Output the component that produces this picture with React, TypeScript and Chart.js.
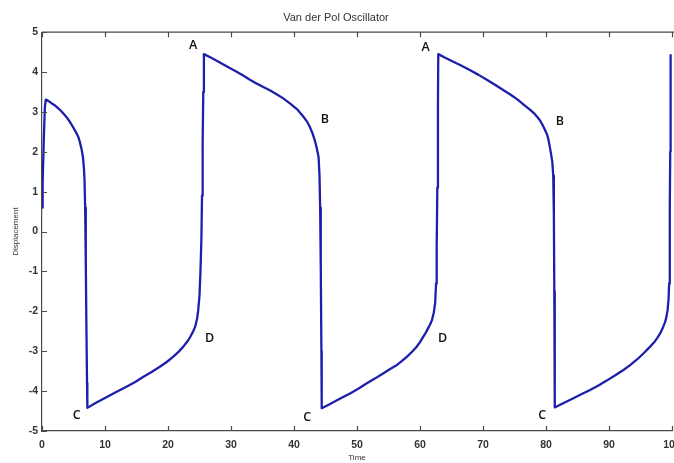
import React, { useEffect, useRef } from "react";
import { Chart, registerables } from "chart.js";

Chart.register(...registerables);

// Time samples of the oscillator trace
const timeValues: number[] = [
  0, 0.1, 0.3, 0.45, 0.6,
  1.0, 1.5, 2.0, 2.5, 3.0, 3.4, 3.9, 4.3, 4.7, 5.0, 5.5, 5.8, 6.0, 6.3, 6.5, 6.65, 6.75, 6.85, 6.95, 7.05, 7.15, 7.2,
  8.5, 10, 11.7, 13.4, 14.8, 16.1, 17.4, 18.7, 19.8, 20.8, 21.7, 22.4, 23.0, 23.5, 24.0, 24.3, 24.6, 24.8, 25.0, 25.15, 25.3, 25.4, 25.5, 25.6, 25.7,
  26.7, 27.8, 28.8, 29.8, 30.9, 32.0, 33.0, 34.1, 35.2, 36.3, 37.3, 38.3, 39.4, 40.6, 41.5, 42.1, 42.5, 42.9, 43.3, 43.6, 43.9, 44.05, 44.15, 44.25, 44.35, 44.4,
  45.5, 46.6, 47.8, 48.9, 50.2, 51.5, 52.9, 54.2, 55.2, 56.2, 57.1, 57.9, 58.7, 59.4, 60.0, 60.5, 60.9, 61.3, 61.6, 61.9, 62.2, 62.4, 62.55, 62.65, 62.75, 62.85, 62.9,
  64.0, 65.3, 66.6, 67.9, 69.3, 70.6, 71.9, 73.2, 74.4, 75.5, 76.5, 77.5, 78.2, 78.7, 79.2, 79.6, 79.9, 80.2, 80.4, 80.6, 80.8, 81.0, 81.15, 81.25, 81.32, 81.38, 81.4,
  82.8, 84.2, 85.6, 87.0, 88.4, 89.7, 91.0, 92.3, 93.4, 94.5, 95.5, 96.5, 97.2, 97.7, 98.2, 98.6, 98.9, 99.1, 99.3, 99.45, 99.55, 99.62, 99.68, 99.72, 99.76, 99.8,
];

// Displacement at each time sample
const displacementValues: number[] = [
  0.6, 1.2, 2.4, 3.1, 3.31,
  3.28, 3.22, 3.17, 3.1, 3.03, 2.96, 2.87, 2.78, 2.68, 2.6, 2.46, 2.36, 2.25, 2.05, 1.87, 1.6, 1.3, 0.6, -0.8, -2.4, -3.8, -4.42,
  -4.3, -4.17, -4.03, -3.89, -3.77, -3.64, -3.52, -3.39, -3.27, -3.14, -3.01, -2.89, -2.77, -2.65, -2.5, -2.39, -2.2, -1.97, -1.6, -1.0, -0.2, 0.9, 2.2, 3.5, 4.45,
  4.37, 4.28, 4.19, 4.1, 4.01, 3.91, 3.81, 3.71, 3.62, 3.53, 3.44, 3.34, 3.21, 3.05, 2.88, 2.75, 2.63, 2.48, 2.29, 2.1, 1.87, 1.4, 0.6, -0.9, -3.0, -4.43,
  -4.34, -4.25, -4.15, -4.06, -3.94, -3.81, -3.68, -3.55, -3.45, -3.36, -3.25, -3.14, -3.02, -2.9, -2.77, -2.64, -2.54, -2.42, -2.33, -2.22, -2.02, -1.8, -1.3, -0.4, 1.1, 3.2, 4.45,
  4.36, 4.26, 4.16, 4.05, 3.93, 3.81, 3.68, 3.55, 3.43, 3.31, 3.18, 3.05, 2.95, 2.86, 2.75, 2.63, 2.53, 2.42, 2.3, 2.13, 1.95, 1.75, 1.4, 0.4, -1.5, -3.5, -4.41,
  -4.3, -4.19, -4.08, -3.97, -3.85, -3.73, -3.6, -3.47, -3.34, -3.2, -3.05, -2.89, -2.77, -2.66, -2.53, -2.39, -2.27, -2.15, -1.97, -1.7, -1.3, -0.6, 0.6, 2.0, 3.4, 4.45,
];

// Phase markers on the limit cycle
const markerNames: string[] = ["A", "A", "B", "B", "C", "C", "C", "D", "D"];
const markerTimes: number[] = [24.0, 60.9, 44.9, 82.2, 5.5, 42.1, 79.4, 26.6, 63.6];
const markerValues: number[] = [4.67, 4.63, 2.82, 2.75, -4.62, -4.66, -4.6, -2.68, -2.68];

const xTickValues: number[] = [0, 10, 20, 30, 40, 50, 60, 70, 80, 90, 100];
const yTickValues: number[] = [-5, -4, -3, -2, -1, 0, 1, 2, 3, 4, 5];

const AXIS_COLOR = "#4a4a4a";
const TICK_FONT = { family: "Liberation Sans, Arial, sans-serif", size: 10.5, weight: "bold" as const };

// Frame top edge, inward tick marks and the phase letters
const framePlugin = {
  id: "frameAndMarkers",
  afterDraw(chart: any) {
    const { ctx, chartArea, scales } = chart;
    const xs = scales.x;
    const ys = scales.y;
    ctx.save();
    ctx.strokeStyle = AXIS_COLOR;
    ctx.lineWidth = 1.2;
    ctx.beginPath();
    ctx.moveTo(chartArea.left, chartArea.top);
    ctx.lineTo(chartArea.right + 2, chartArea.top);
    for (const v of xTickValues) {
      const px = Math.round(xs.getPixelForValue(v)) + 0.5;
      ctx.moveTo(px, chartArea.bottom);
      ctx.lineTo(px, chartArea.bottom - 5);
      ctx.moveTo(px, chartArea.top);
      ctx.lineTo(px, chartArea.top + 5);
    }
    for (const v of yTickValues) {
      const py = Math.round(ys.getPixelForValue(v)) + 0.5;
      ctx.moveTo(chartArea.left, py);
      ctx.lineTo(chartArea.left + 5, py);
    }
    ctx.stroke();

    ctx.fillStyle = "#111";
    ctx.font = "600 12.5px 'Open Sans', 'Liberation Sans', sans-serif";
    ctx.textAlign = "center";
    ctx.textBaseline = "middle";
    markerNames.forEach((name, i) => {
      ctx.fillText(name, xs.getPixelForValue(markerTimes[i]), ys.getPixelForValue(markerValues[i]));
    });
    ctx.restore();
  },
};

export default function App() {
  const canvasRef = useRef<HTMLCanvasElement | null>(null);

  useEffect(() => {
    document.body.style.margin = "0";
    const canvas = canvasRef.current;
    if (!canvas) return;
    const points = timeValues.map((t, i) => ({ x: t, y: displacementValues[i] }));
    const chart = new Chart(canvas, {
      type: "line",
      data: {
        datasets: [
          {
            data: points,
            borderColor: "rgb(30, 30, 172)",
            borderWidth: 2.3,
            borderJoinStyle: "round",
            pointRadius: 0,
            tension: 0,
            fill: false,
          },
        ],
      },
      options: {
        animation: false,
        responsive: false,
        maintainAspectRatio: false,
        layout: { padding: { left: 0, right: 2, top: 0, bottom: 0 } },
        plugins: {
          legend: { display: false },
          tooltip: { enabled: false },
          title: {
            display: true,
            text: "Van der Pol Oscillator",
            color: "#333",
            font: { family: "Liberation Sans, Arial, sans-serif", size: 11, weight: "normal" },
            padding: { top: 11, bottom: 8 },
          },
        },
        scales: {
          x: {
            type: "linear",
            min: 0,
            max: 100,
            afterBuildTicks: (scale: any) => {
              scale.ticks = xTickValues.map((v) => ({ value: v }));
            },
            afterFit: (scale: any) => {
              scale.height = 32;
              scale.paddingLeft = 0;
              scale.paddingRight = 0;
            },
            grid: { display: false, drawTicks: false },
            border: { display: true, color: AXIS_COLOR, width: 1.2 },
            ticks: { color: "#333", font: TICK_FONT, padding: 8, maxRotation: 0, autoSkip: false },
            title: {
              display: true,
              text: "Time",
              color: "#333",
              font: { family: "Liberation Sans, Arial, sans-serif", size: 8 },
              padding: { top: 0, bottom: 0 },
            },
          },
          y: {
            type: "linear",
            min: -5,
            max: 5,
            afterBuildTicks: (scale: any) => {
              scale.ticks = yTickValues.map((v) => ({ value: v }));
            },
            afterFit: (scale: any) => {
              scale.width = 42;
              scale.paddingTop = 0;
              scale.paddingBottom = 0;
            },
            grid: { display: false, drawTicks: false },
            border: { display: true, color: AXIS_COLOR, width: 1.2 },
            ticks: { color: "#333", font: TICK_FONT, padding: 4, autoSkip: false },
            title: {
              display: true,
              text: "Displacement",
              color: "#333",
              font: { family: "Liberation Sans, Arial, sans-serif", size: 8 },
              padding: { top: 11, bottom: 0 },
            },
          },
        },
      },
      plugins: [framePlugin],
    });
    return () => chart.destroy();
  }, []);

  return (
    <div style={{ width: 674, height: 463, background: "#fff" }}>
      <canvas ref={canvasRef} width={674} height={463} style={{ display: "block" }} />
    </div>
  );
}
